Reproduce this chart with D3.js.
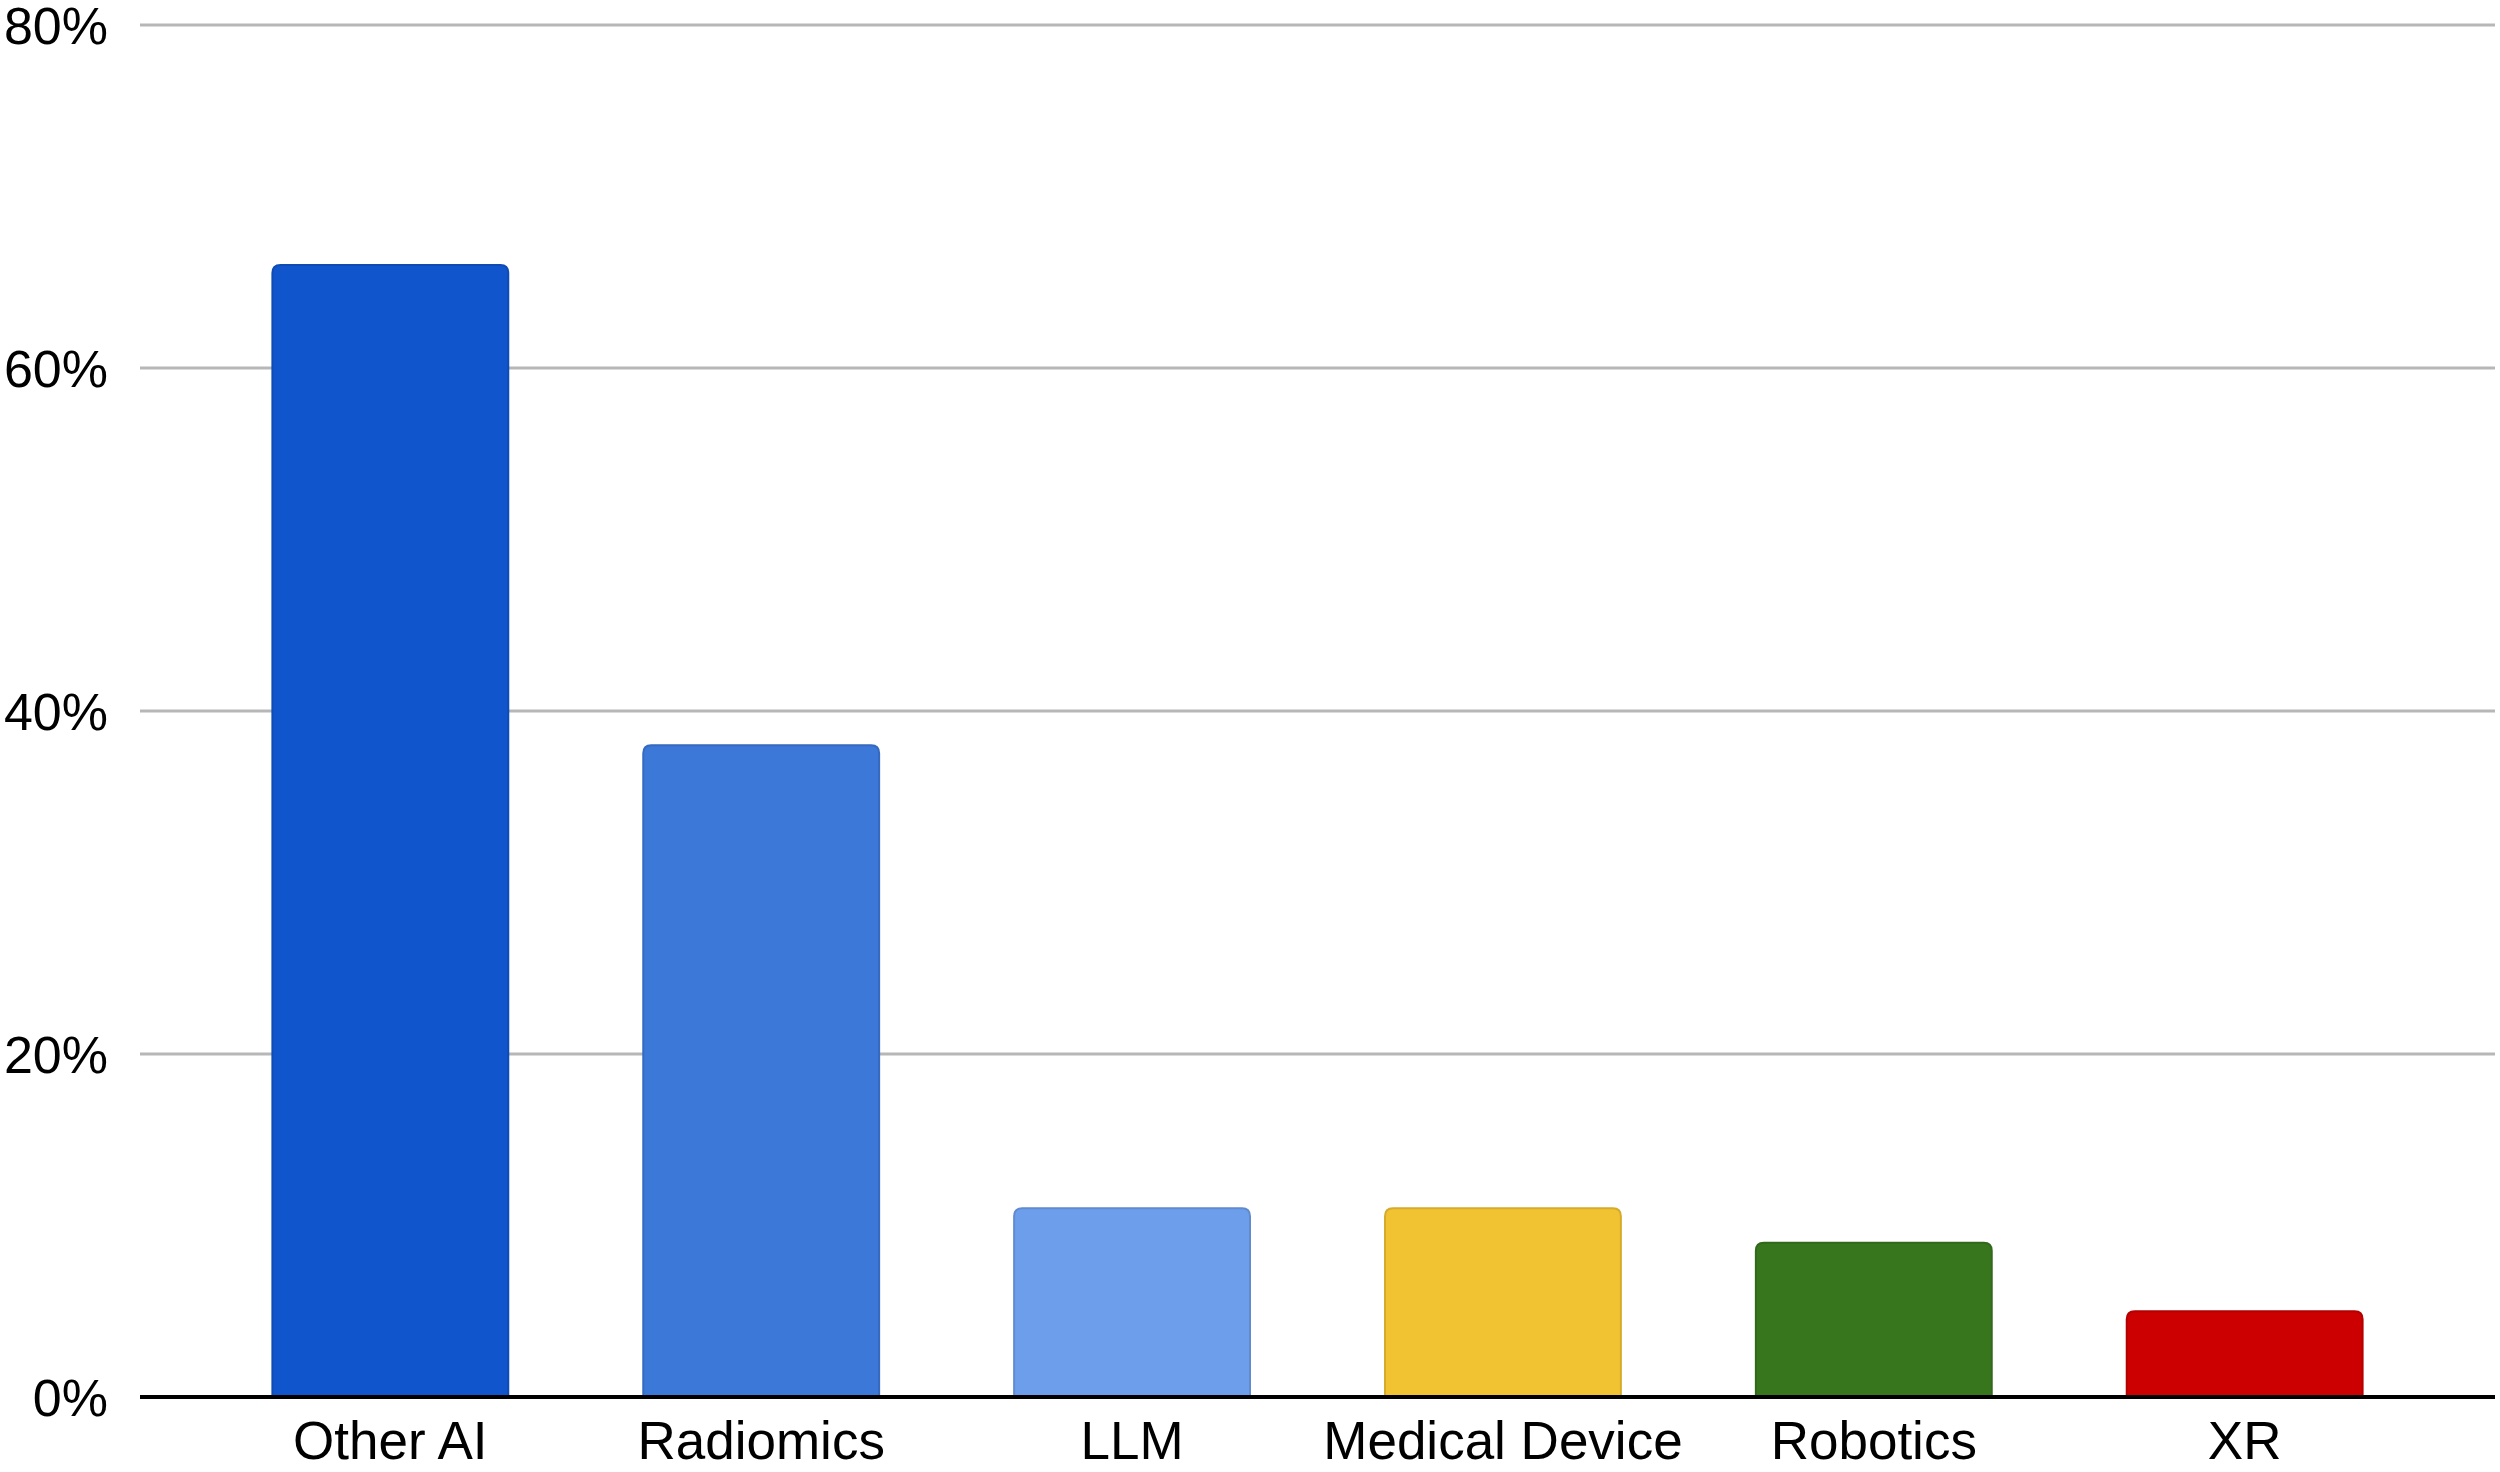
<!DOCTYPE html>
<html lang="en">

<head>
    <meta charset="UTF-8">
    <title>Bar chart</title>
    <script src="https://d3js.org/d3.v7.min.js"></script>
    <style>
        body {
            margin: 0;
            padding: 0;
            background-color: #fff;
        }

        svg text {
            font-family: 'Liberation Sans', Arial, sans-serif;
            fill: #000;
        }

        .grid line {
            stroke: #b7b7b7;
            stroke-width: 3px;
        }
    </style>
</head>

<body>
    <svg id="chart" width="2500" height="1472"></svg>
    <script>
        // dados
        const categories = ["Other AI", "Radiomics", "LLM", "Medical Device", "Robotics", "XR"];
        const values = [66, 38, 11, 11, 9, 5];
        const colors = ["#1155cc", "#3c78d8", "#6d9eeb", "#f1c232", "#38761d", "#cc0000"];
        const yTicks = [0, 20, 40, 60, 80];

        const svg = d3.select("#chart");
        const plotLeft = 140, plotRight = 2495, plotTop = 25, plotBottom = 1397;

        const xScale = d3.scaleBand()
            .domain(categories)
            .range([plotLeft, plotRight])
            .paddingInner(0.364)
            .paddingOuter(0.357);

        const yScale = d3.scaleLinear().domain([0, 80]).range([plotBottom, plotTop]);

        // linhas de grade
        svg.append("g")
            .attr("class", "grid")
            .selectAll("line")
            .data(yTicks.filter(d => d > 0))
            .enter()
            .append("line")
            .attr("x1", plotLeft)
            .attr("x2", plotRight)
            .attr("y1", d => yScale(d))
            .attr("y2", d => yScale(d));

        // rotulos do eixo Y
        svg.append("g")
            .selectAll("text")
            .data(yTicks)
            .enter()
            .append("text")
            .attr("x", 108)
            .attr("y", d => yScale(d))
            .attr("dy", "0.36em")
            .attr("text-anchor", "end")
            .attr("font-size", 52)
            .text(d => d + "%");

        // barras com cantos superiores arredondados
        const r = 8;
        function barPath(x, y, w, h) {
            return `M${x},${y + h}V${y + r}Q${x},${y} ${x + r},${y}H${x + w - r}Q${x + w},${y} ${x + w},${y + r}V${y + h}Z`;
        }

        svg.append("g")
            .selectAll("path")
            .data(categories)
            .enter()
            .append("path")
            .attr("d", (d, i) => {
                const y = yScale(values[i]);
                return barPath(xScale(d), y, xScale.bandwidth(), plotBottom - y);
            })
            .attr("fill", (d, i) => colors[i])
            .attr("stroke", (d, i) => d3.color(colors[i]).darker(0.35))
            .attr("stroke-width", 2);

        // eixo X
        svg.append("line")
            .attr("x1", plotLeft)
            .attr("x2", plotRight)
            .attr("y1", plotBottom)
            .attr("y2", plotBottom)
            .attr("stroke", "#000")
            .attr("stroke-width", 4);

        svg.append("g")
            .selectAll("text")
            .data(categories)
            .enter()
            .append("text")
            .attr("x", d => xScale(d) + xScale.bandwidth() / 2)
            .attr("y", 1459)
            .attr("text-anchor", "middle")
            .attr("font-size", 53)
            .text(d => d);
    </script>
</body>

</html>
